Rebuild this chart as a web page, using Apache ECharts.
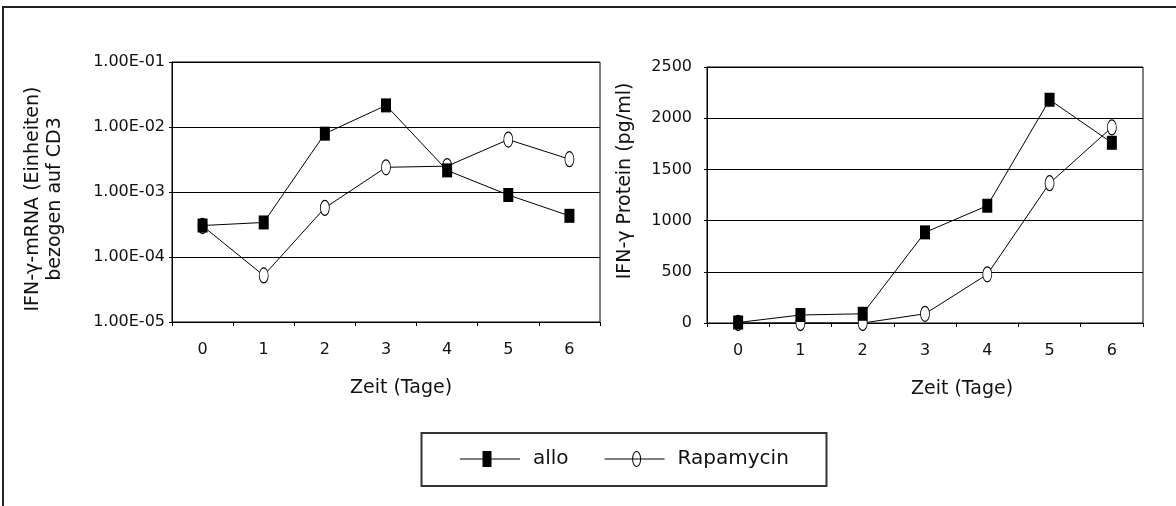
<!DOCTYPE html>
<html>
<head>
<meta charset="utf-8">
<script src="https://cdn.jsdelivr.net/npm/echarts@6/dist/echarts.min.js"></script>
<style>
html,body{margin:0;padding:0;background:#fff;}
#chart{width:1176px;height:506px;}
</style>
</head>
<body>
<div id="chart"></div>
<script>
// ---- data ----
var days = ['0', '1', '2', '3', '4', '5', '6'];
var mrnaAllo = [3.05e-4, 3.4e-4, 7.9e-3, 2.15e-2, 2.15e-3, 9.0e-4, 4.3e-4];
var mrnaRapa = [3.0e-4, 5.2e-5, 5.7e-4, 2.4e-3, 2.5e-3, 6.4e-3, 3.2e-3];
var proteinAllo = [5, 78, 90, 885, 1145, 2180, 1760];
var proteinRapa = [0, 0, 0, 90, 475, 1365, 1910];
var mrnaTickLabels = ['1.00E-05', '1.00E-04', '1.00E-03', '1.00E-02', '1.00E-01'];
var proteinTickLabels = ['0', '500', '1000', '1500', '2000', '2500'];
var seriesNames = ['allo', 'Rapamycin'];
var mrnaAxisName = 'IFN-γ-mRNA (Einheiten)\nbezogen auf CD3';
var proteinAxisName = 'IFN-γ Protein (pg/ml)';
var timeAxisName = 'Zeit (Tage)';

var FONT = 'DejaVu Sans';
var TXT = '#111';
var ellipsePath = 'path://M0,-7A4.5,7 0 1,1 0,7A4.5,7 0 1,1 0,-7Z';

var chart = echarts.init(document.getElementById('chart'), null, {renderer: 'canvas'});

function xAxisCfg(gridIndex, shift) {
  return {
    type: 'category', gridIndex: gridIndex, data: days, boundaryGap: true,
    axisLine: {show: true, lineStyle: {color: '#000', width: 1}},
    axisTick: {show: true, length: 4, inside: false, lineStyle: {color: '#000'}},
    axisLabel: {margin: 20, fontFamily: FONT, fontSize: 16, color: TXT},
    splitLine: {show: false},
    name: timeAxisName, nameLocation: 'middle', nameGap: 57,
    nameTextStyle: {fontFamily: FONT, fontSize: 19, color: TXT, padding: [0, 0, 0, shift]}
  };
}

var option = {
  animation: false,
  backgroundColor: '#fff',
  grid: [
    {left: 172, top: 62, width: 428, height: 260, show: true, borderColor: '#000', borderWidth: 1, backgroundColor: 'transparent'},
    {left: 707, top: 67, width: 436, height: 256, show: true, borderColor: '#000', borderWidth: 1, backgroundColor: 'transparent'}
  ],
  xAxis: [xAxisCfg(0, 30), xAxisCfg(1, 74)],
  yAxis: [
    {
      type: 'log', logBase: 10, gridIndex: 0, min: 1e-5, max: 1e-1,
      axisLine: {show: true, lineStyle: {color: '#000'}},
      axisTick: {show: true, length: 3, lineStyle: {color: '#000'}},
      axisLabel: {
        margin: 7, fontFamily: FONT, fontSize: 16, color: TXT,
        formatter: function (v) { return mrnaTickLabels[Math.round(Math.log10(v)) + 5]; }
      },
      splitLine: {show: true, lineStyle: {color: '#000', width: 1}},
      minorTick: {show: false}, minorSplitLine: {show: false},
      name: mrnaAxisName, nameLocation: 'middle', nameRotate: 90, nameGap: 106,
      nameTextStyle: {fontFamily: FONT, fontSize: 19, lineHeight: 22, color: TXT, align: 'center', padding: [0, 14, 0, 0]}
    },
    {
      type: 'value', gridIndex: 1, min: 0, max: 2500, interval: 500,
      axisLine: {show: true, lineStyle: {color: '#000'}},
      axisTick: {show: true, length: 3, lineStyle: {color: '#000'}},
      axisLabel: {
        margin: 15, fontFamily: FONT, fontSize: 16, color: TXT,
        formatter: function (v) { return proteinTickLabels[Math.round(v / 500)]; }
      },
      splitLine: {show: true, lineStyle: {color: '#000', width: 1}},
      name: proteinAxisName, nameLocation: 'middle', nameRotate: 90, nameGap: 72,
      nameTextStyle: {fontFamily: FONT, fontSize: 19, color: TXT, padding: [0, 0, 0, 28]}
    }
  ],
  legend: {
    left: 460, top: 449, padding: 0,
    itemWidth: 60, itemHeight: 16, itemGap: 36,
    textStyle: {fontFamily: FONT, fontSize: 20, color: TXT, padding: [0, 0, 0, 8]},
    selectedMode: false,
    data: [
      {name: seriesNames[0], icon: 'path://M0,7.5H60V8.5H0Z M22.5,0H31.5V16H22.5Z', itemStyle: {color: '#000', borderWidth: 0}},
      {name: seriesNames[1], icon: 'path://M0,7.5H60V8.5H0Z M32,0A4.5,8 0 0,1 32,16A4.5,8 0 0,1 32,0Z M32,1A3.5,7 0 0,0 32,15A3.5,7 0 0,0 32,1Z', itemStyle: {color: '#000', borderWidth: 0}}
    ]
  },
  graphic: [
    {type: 'rect', silent: true, shape: {x: 3, y: 7, width: 1300, height: 600}, style: {fill: 'none', stroke: '#222', lineWidth: 2}},
    {type: 'rect', silent: true, shape: {x: 421.5, y: 433, width: 405, height: 53}, style: {fill: 'none', stroke: '#333', lineWidth: 2}}
  ],
  series: [
    {
      name: seriesNames[1], type: 'line', xAxisIndex: 0, yAxisIndex: 0, data: mrnaRapa,
      symbol: ellipsePath, symbolSize: [9, 15], clip: false, z: 2,
      lineStyle: {color: '#000', width: 1}, itemStyle: {color: '#fff', borderColor: '#000', borderWidth: 1},
      emphasis: {disabled: true}
    },
    {
      name: seriesNames[0], type: 'line', xAxisIndex: 0, yAxisIndex: 0, data: mrnaAllo,
      symbol: 'rect', symbolSize: [10, 14], clip: false, z: 3,
      lineStyle: {color: '#000', width: 1}, itemStyle: {color: '#000'},
      emphasis: {disabled: true}
    },
    {
      name: seriesNames[1], type: 'line', xAxisIndex: 1, yAxisIndex: 1, data: proteinRapa,
      symbol: ellipsePath, symbolSize: [9, 15], clip: false, z: 2,
      lineStyle: {color: '#000', width: 1}, itemStyle: {color: '#fff', borderColor: '#000', borderWidth: 1},
      emphasis: {disabled: true}
    },
    {
      name: seriesNames[0], type: 'line', xAxisIndex: 1, yAxisIndex: 1, data: proteinAllo,
      symbol: 'rect', symbolSize: [10, 14], clip: false, z: 3,
      lineStyle: {color: '#000', width: 1}, itemStyle: {color: '#000'},
      emphasis: {disabled: true}
    }
  ]
};
chart.setOption(option);
</script>
</body>
</html>
